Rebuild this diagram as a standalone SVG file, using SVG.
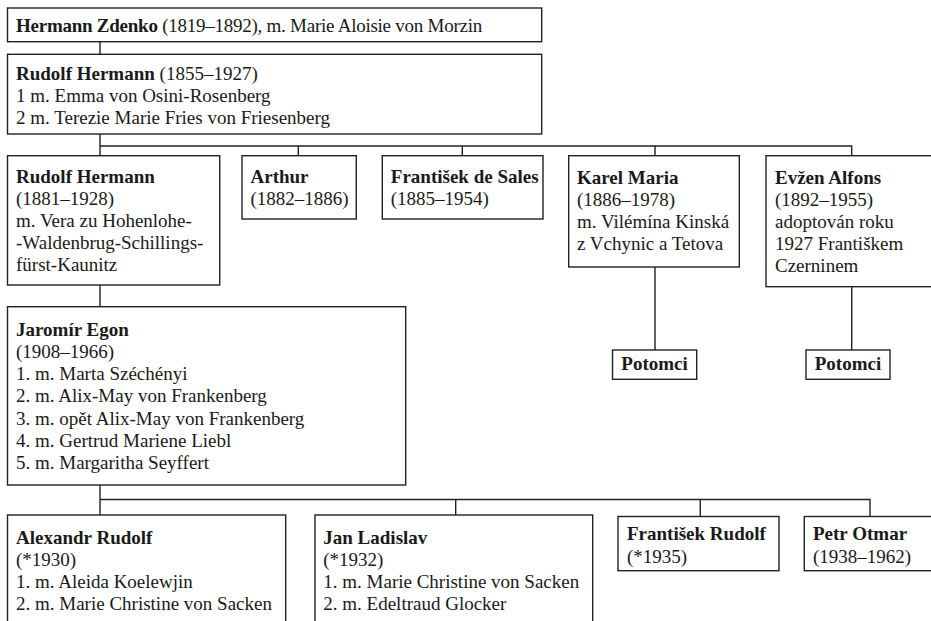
<svg xmlns="http://www.w3.org/2000/svg" width="931" height="621" viewBox="0 0 931 621">
<style>
rect{fill:#fff;stroke:#222;stroke-width:1.4}
#connectors path{fill:none;stroke:#222;stroke-width:1.4}
text{font-family:"Liberation Serif","DejaVu Serif",serif;font-size:19px;fill:#1a1a1a}
.b{font-weight:bold}
.c{text-anchor:middle}
</style>
<rect x="0" y="0" width="931" height="621" style="fill:#fff;stroke:none"/>
<g id="connectors">
<path d="M100,41.7V54.3"/>
<path d="M100,134V146H851.7V155.7M298.3,146V155.7M462.3,146V155.7M655,146V155.7M100,146V155.7"/>
<path d="M100,285V306.7"/>
<path d="M655,267V350"/>
<path d="M851.7,286.7V350"/>
<path d="M100,485V499.5H870V516.5M100,499.5V515M455.7,499.5V515M700.3,499.5V516.5"/>
</g>
<g id="hermann-zdenko">
<rect x="7.5" y="8" width="534.2" height="33.7"/>
<text x="16" y="31.5" letter-spacing="-0.25"><tspan class="b">Hermann Zdenko</tspan> (1819–1892), m. Marie Aloisie von Morzin</text>
</g>
<g id="rudolf-hermann-1855">
<rect x="7.5" y="54.3" width="534.2" height="79.7"/>
<text x="16" y="80"><tspan class="b">Rudolf Hermann</tspan> (1855–1927)</text>
<text x="16" y="102">1 m. Emma von Osini-Rosenberg</text>
<text x="16" y="124">2 m. Terezie Marie Fries von Friesenberg</text>
</g>
<g id="rudolf-hermann-1881">
<rect x="7.5" y="155.7" width="212.2" height="129.3"/>
<text x="16" y="182.5" class="b">Rudolf Hermann</text>
<text x="16" y="204.5">(1881–1928)</text>
<text x="16" y="226.5">m. Vera zu Hohenlohe-</text>
<text x="16" y="248.5">-Waldenbrug-Schillings-</text>
<text x="16" y="270.5">fürst-Kaunitz</text>
</g>
<g id="arthur">
<rect x="242" y="155.7" width="114.3" height="63.3"/>
<text x="250.5" y="182.5" class="b">Arthur</text>
<text x="250.5" y="204.5">(1882–1886)</text>
</g>
<g id="frantisek-de-sales">
<rect x="382.3" y="155.7" width="160.7" height="63.3"/>
<text x="390.8" y="182.5" class="b">František de Sales</text>
<text x="390.8" y="204.5">(1885–1954)</text>
</g>
<g id="karel-maria">
<rect x="568.7" y="155.7" width="170.6" height="111.3"/>
<text x="577" y="183.5" class="b">Karel Maria</text>
<text x="577" y="205.5">(1886–1978)</text>
<text x="577" y="227.5">m. Vilémína Kinská</text>
<text x="577" y="249.5">z Vchynic a Tetova</text>
</g>
<g id="evzen-alfons">
<rect x="766" y="155.7" width="175" height="131"/>
<text x="775" y="183.5" class="b">Evžen Alfons</text>
<text x="775" y="205.5">(1892–1955)</text>
<text x="775" y="227.5">adoptován roku</text>
<text x="775" y="249.5">1927 Františkem</text>
<text x="775" y="271.5">Czerninem</text>
</g>
<g id="potomci-karel">
<rect x="612.5" y="350" width="84.2" height="29.3"/>
<text x="654.6" y="369.5" class="b c">Potomci</text>
</g>
<g id="potomci-evzen">
<rect x="806" y="350" width="84" height="29.3"/>
<text x="848" y="369.5" class="b c">Potomci</text>
</g>
<g id="jaromir-egon">
<rect x="7.5" y="306.7" width="398.2" height="178.3"/>
<text x="16" y="335.5" class="b">Jaromír Egon</text>
<text x="16" y="357.8">(1908–1966)</text>
<text x="16" y="380.1">1. m. Marta Széchényi</text>
<text x="16" y="402.4">2. m. Alix-May von Frankenberg</text>
<text x="16" y="424.7">3. m. opět Alix-May von Frankenberg</text>
<text x="16" y="447">4. m. Gertrud Mariene Liebl</text>
<text x="16" y="469.3">5. m. Margaritha Seyffert</text>
</g>
<g id="alexandr-rudolf">
<rect x="7.5" y="515" width="278.2" height="120"/>
<text x="16" y="544" class="b">Alexandr Rudolf</text>
<text x="16" y="566">(*1930)</text>
<text x="16" y="588">1. m. Aleida Koelewjin</text>
<text x="16" y="610">2. m. Marie Christine von Sacken</text>
</g>
<g id="jan-ladislav">
<rect x="315" y="515" width="277.7" height="120"/>
<text x="323.3" y="544" class="b">Jan Ladislav</text>
<text x="323.3" y="566">(*1932)</text>
<text x="323.3" y="588">1. m. Marie Christine von Sacken</text>
<text x="323.3" y="610">2. m. Edeltraud Glocker</text>
</g>
<g id="frantisek-rudolf">
<rect x="618" y="516.5" width="161" height="54.2"/>
<text x="627" y="540" class="b">František Rudolf</text>
<text x="627" y="562.5">(*1935)</text>
</g>
<g id="petr-otmar">
<rect x="804.3" y="516.5" width="135" height="54.2"/>
<text x="813" y="540" class="b">Petr Otmar</text>
<text x="813" y="562.5">(1938–1962)</text>
</g>
</svg>
